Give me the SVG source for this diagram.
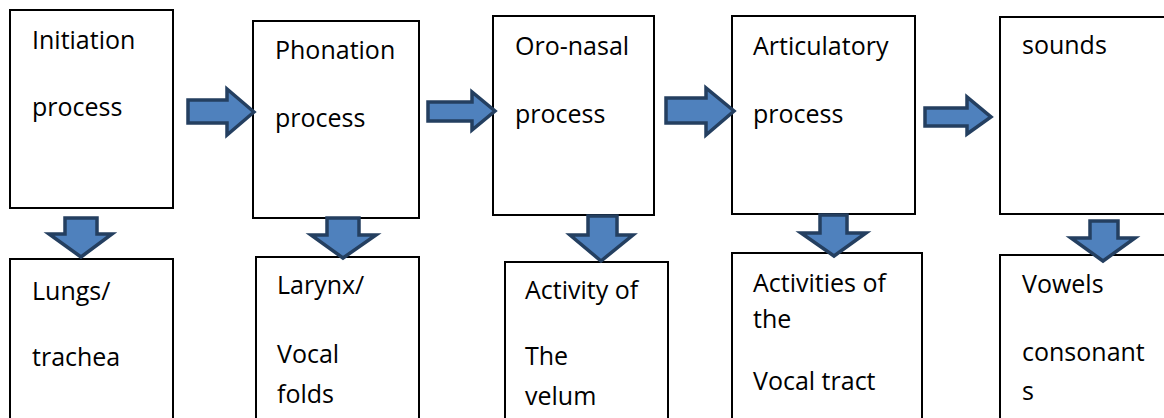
<svg xmlns="http://www.w3.org/2000/svg" width="1164" height="418" viewBox="0 0 1164 418">
  <defs>
    <style>
      .box { fill: #ffffff; stroke: #000000; stroke-width: 2; }
      .lbl { font-family: "Open Sans", "Liberation Sans", sans-serif; font-size: 25px; fill: #000000; }
      .arrow { fill: #4F81BD; stroke: #243F60; stroke-width: 3.5; stroke-linejoin: miter; }
    </style>
  </defs>
  <rect width="1164" height="418" fill="#ffffff"/>

  <!-- process stages (top row) -->
  <g id="initiation">
    <rect class="box" x="10" y="10" width="163" height="198"/>
    <text class="lbl" x="32" y="49">Initiation</text>
    <text class="lbl" x="32" y="116">process</text>
  </g>
  <g id="phonation">
    <rect class="box" x="253" y="21" width="166" height="197"/>
    <text class="lbl" x="275" y="59">Phonation</text>
    <text class="lbl" x="275" y="127">process</text>
  </g>
  <g id="oronasal">
    <rect class="box" x="493" y="16" width="161" height="199"/>
    <text class="lbl" x="515" y="55">Oro-nasal</text>
    <text class="lbl" x="515" y="123">process</text>
  </g>
  <g id="articulatory">
    <rect class="box" x="732" y="16" width="183" height="198"/>
    <text class="lbl" x="753" y="55">Articulatory</text>
    <text class="lbl" x="753" y="123">process</text>
  </g>
  <g id="sounds">
    <rect class="box" x="1000" y="17" width="180" height="197"/>
    <text class="lbl" x="1022" y="54">sounds</text>
  </g>

  <!-- organs involved (bottom row) -->
  <g id="lungs">
    <rect class="box" x="10" y="259" width="163" height="180"/>
    <text class="lbl" x="32" y="300">Lungs/</text>
    <text class="lbl" x="32" y="366">trachea</text>
  </g>
  <g id="larynx">
    <rect class="box" x="256" y="257" width="163" height="180"/>
    <text class="lbl" x="277" y="294">Larynx/</text>
    <text class="lbl" x="277" y="363">Vocal</text>
    <text class="lbl" x="277" y="403">folds</text>
  </g>
  <g id="velum">
    <rect class="box" x="505" y="262" width="163" height="180"/>
    <text class="lbl" x="525" y="299">Activity of</text>
    <text class="lbl" x="525" y="365">The</text>
    <text class="lbl" x="525" y="405">velum</text>
  </g>
  <g id="vocaltract">
    <rect class="box" x="732" y="253" width="190" height="180"/>
    <text class="lbl" x="753" y="292">Activities of</text>
    <text class="lbl" x="753" y="328">the</text>
    <text class="lbl" x="753" y="390">Vocal tract</text>
  </g>
  <g id="vowels">
    <rect class="box" x="1000" y="255" width="180" height="180"/>
    <text class="lbl" x="1022" y="293">Vowels</text>
    <text class="lbl" x="1022" y="361">consonant</text>
    <text class="lbl" x="1022" y="400">s</text>
  </g>

  <!-- block arrows -->
  <g id="connectors">
    <!-- horizontal: stage to stage -->
    <path class="arrow" d="M188,100 H227 V89 L254,112 L227,135 V123 H188 Z"/>
    <path class="arrow" d="M428,102 H472 V92 L495,111 L472,130 V121 H428 Z"/>
    <path class="arrow" d="M666,98 H706 V88 L734,111 L706,135 V123 H666 Z"/>
    <path class="arrow" d="M925,108 H967 V97 L991,117 L967,134 V126 H925 Z"/>
    <!-- vertical: stage to organ -->
    <path class="arrow" d="M65,218 H97 V234 H112 L81,257 L49,234 H65 Z"/>
    <path class="arrow" d="M327,218 H359 V235 H376 L343,258 L311,235 H327 Z"/>
    <path class="arrow" d="M588,216 H617 V235 H633 L601,261 L570,235 H588 Z"/>
    <path class="arrow" d="M820,215 H847 V233 H866 L834,256 L801,233 H820 Z"/>
    <path class="arrow" d="M1090,221 H1118 V238 H1135 L1103,261 L1071,238 H1090 Z"/>
  </g>
</svg>
